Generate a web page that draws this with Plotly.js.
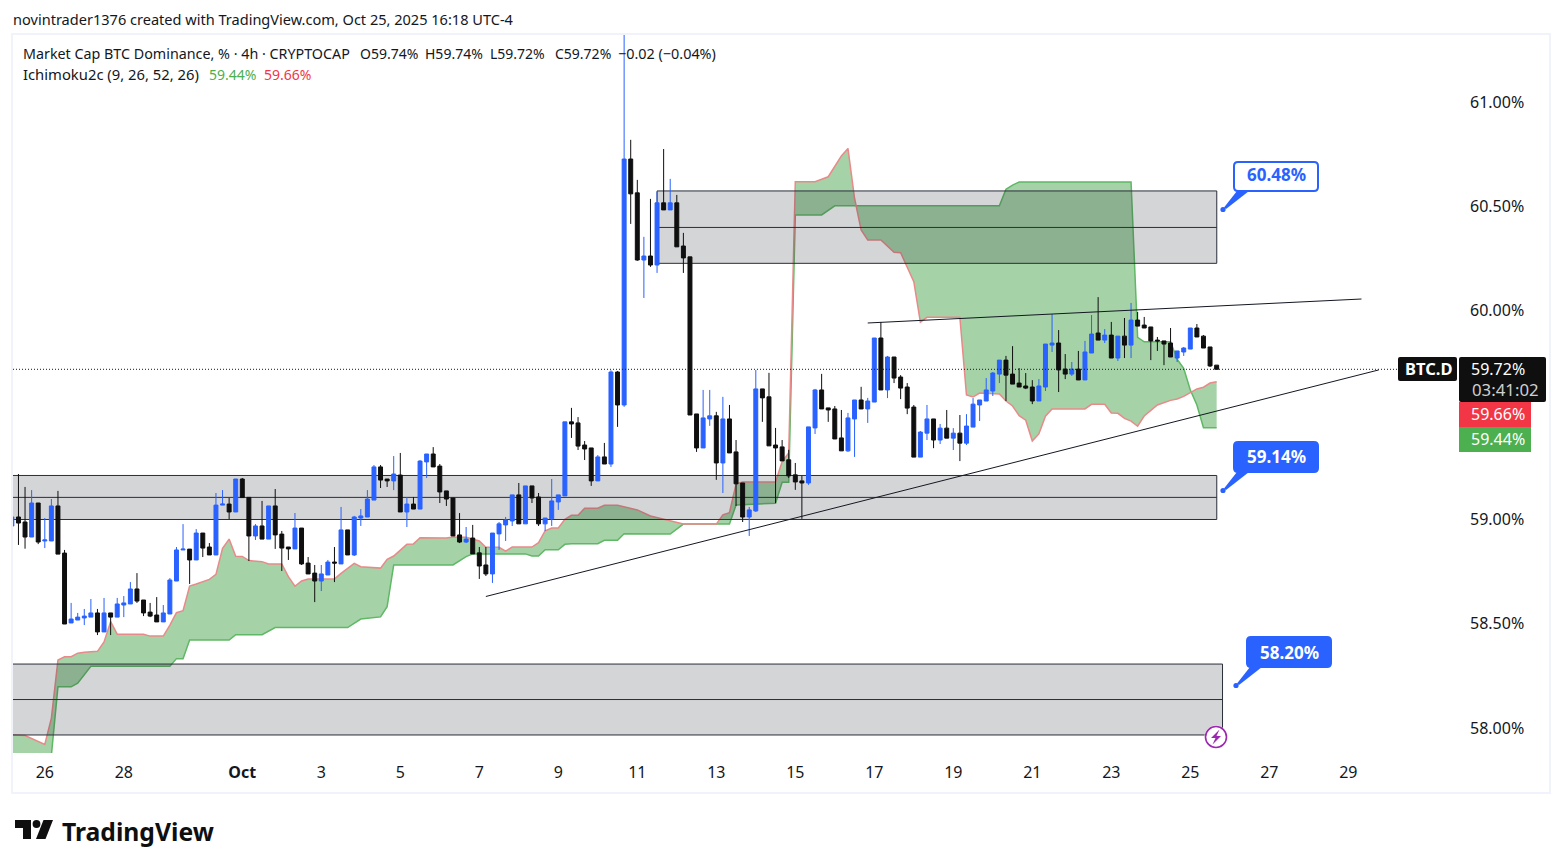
<!DOCTYPE html>
<html>
<head>
<meta charset="utf-8">
<script src="https://cdn.plot.ly/plotly-3.0.0.min.js"></script>
<style>html,body{margin:0;padding:0;background:#fff;overflow:hidden}#chart{width:1563px;height:868px}</style>
</head>
<body>
<div id="chart"></div>
<script>
// ---- Candle values, one per 4h bar, first bar Sep 25 04:00 ----
const open = [
58.969,59.012,58.988,58.916,59.079,58.897,58.897,59.065,58.839,58.504,
58.518,58.528,58.532,58.552,58.461,58.552,58.532,58.590,58.595,58.667,
58.614,58.556,58.542,58.509,58.547,58.705,58.854,58.858,58.806,58.935,
58.868,58.830,59.069,59.074,59.036,59.194,59.106,58.921,58.969,58.906,
59.065,58.930,58.868,58.859,58.959,58.791,58.743,58.705,58.734,58.796,
58.787,58.950,58.830,59.007,59.012,59.093,59.252,59.194,59.185,59.213,
59.036,59.074,59.050,59.276,59.314,59.256,59.137,59.103,58.926,58.892,
58.911,58.840,58.782,58.739,58.931,58.974,58.993,59.118,58.979,59.161,
59.108,58.979,59.003,59.084,59.113,59.468,59.463,59.357,59.343,59.185,
59.300,59.266,59.707,59.549,60.728,60.566,60.244,60.263,60.220,60.518,
60.484,60.518,60.311,60.259,59.506,59.343,59.482,59.497,59.271,59.482,
59.324,59.175,59.012,59.041,59.626,59.588,59.357,59.348,59.286,59.214,
59.185,59.175,59.439,59.621,59.535,59.530,59.391,59.329,59.482,59.573,
59.530,59.563,59.870,59.621,59.779,59.683,59.635,59.539,59.299,59.414,
59.482,59.381,59.438,59.390,59.414,59.366,59.443,59.549,59.568,59.616,
59.697,59.764,59.697,59.654,59.640,59.635,59.568,59.635,59.836,59.846,
59.721,59.697,59.721,59.669,59.798,59.894,59.860,59.884,59.774,59.879,
59.836,59.956,59.932,59.923,59.860,59.856,59.846,59.774,59.803,59.817,
59.918,59.879,59.827,59.74];
const high = [
59.012,59.218,59.156,59.141,59.079,59.007,59.098,59.137,58.854,58.600,
58.552,58.571,58.619,58.571,58.624,58.552,58.624,58.633,58.700,58.743,
58.614,58.600,58.628,58.590,58.719,58.868,58.978,58.858,58.954,58.935,
58.887,59.127,59.141,59.103,59.194,59.199,59.106,58.978,59.089,59.065,
59.146,58.945,58.868,59.031,58.959,58.820,58.782,58.782,58.806,58.868,
59.060,58.950,59.017,59.050,59.141,59.261,59.261,59.194,59.304,59.319,
59.108,59.108,59.285,59.314,59.347,59.266,59.137,59.103,59.031,58.964,
58.974,58.868,58.868,58.935,58.988,59.012,59.118,59.175,59.161,59.161,
59.127,59.007,59.194,59.118,59.468,59.535,59.491,59.376,59.343,59.309,
59.367,59.715,59.712,61.40,60.820,60.628,60.355,60.537,60.570,60.776,
60.633,60.556,60.374,60.259,59.506,59.621,59.621,59.516,59.588,59.549,
59.381,59.175,59.060,59.717,59.626,59.703,59.439,59.381,59.334,59.271,
59.209,59.444,59.626,59.698,59.535,59.544,59.525,59.511,59.573,59.636,
59.583,59.870,59.947,59.784,59.779,59.692,59.654,59.549,59.424,59.549,
59.482,59.458,59.525,59.438,59.501,59.505,59.582,59.573,59.678,59.707,
59.764,59.784,59.831,59.726,59.702,59.668,59.673,59.841,59.985,59.908,
59.793,59.755,59.808,59.856,59.980,60.066,59.913,59.947,59.879,59.966,
60.038,59.995,59.971,59.923,59.875,59.856,59.918,59.808,59.827,59.918,
59.937,59.884,59.827,59.74];
const low = [
58.969,58.878,58.860,58.916,58.882,58.863,58.897,58.834,58.499,58.504,
58.518,58.494,58.532,58.446,58.461,58.446,58.532,58.532,58.595,58.600,
58.537,58.532,58.509,58.509,58.547,58.705,58.854,58.691,58.806,58.820,
58.830,58.830,59.069,59.002,59.036,59.105,58.801,58.902,58.906,58.906,
58.859,58.753,58.806,58.859,58.782,58.739,58.604,58.657,58.734,58.700,
58.787,58.830,58.825,58.969,59.012,59.093,59.151,59.156,59.141,59.036,
58.964,59.050,59.050,59.199,59.252,59.079,59.065,58.921,58.887,58.887,
58.835,58.715,58.729,58.696,58.854,58.897,58.969,58.979,58.979,59.079,
58.969,58.945,58.969,59.046,59.113,59.391,59.333,59.285,59.161,59.185,
59.266,59.252,59.444,59.54,60.417,60.240,60.062,60.211,60.182,60.484,
60.484,60.307,60.182,59.501,59.324,59.343,59.449,59.190,59.127,59.319,
59.065,58.988,58.921,59.036,59.468,59.353,59.079,59.281,59.199,59.142,
59.003,59.166,59.410,59.530,59.468,59.386,59.329,59.324,59.300,59.530,
59.463,59.563,59.621,59.582,59.654,59.577,59.505,59.299,59.299,59.381,
59.342,59.362,59.390,59.333,59.280,59.357,59.443,59.472,59.568,59.592,
59.654,59.568,59.649,59.635,59.625,59.553,59.568,59.616,59.803,59.611,
59.673,59.688,59.669,59.669,59.798,59.860,59.846,59.774,59.760,59.774,
59.774,59.927,59.918,59.764,59.808,59.740,59.779,59.755,59.784,59.817,
59.875,59.822,59.731,59.72];
const close = [
59.012,58.983,58.916,59.079,58.892,58.902,59.065,58.834,58.499,58.523,
58.532,58.537,58.552,58.461,58.552,58.532,58.595,58.600,58.667,58.609,
58.552,58.537,58.509,58.552,58.710,58.854,58.858,58.806,58.935,58.863,
58.830,59.069,59.074,59.036,59.194,59.105,58.921,58.969,58.906,59.065,
58.926,58.863,58.859,58.959,58.787,58.739,58.705,58.739,58.796,58.791,
58.950,58.830,59.012,59.017,59.098,59.252,59.189,59.185,59.218,59.036,
59.074,59.050,59.280,59.314,59.252,59.132,59.098,58.921,58.892,58.906,
58.835,58.777,58.739,58.935,58.979,58.998,59.118,58.979,59.161,59.103,
58.979,59.007,59.089,59.118,59.468,59.458,59.352,59.338,59.185,59.300,
59.266,59.707,59.549,60.728,60.561,60.244,60.263,60.220,60.518,60.484,
60.518,60.307,60.254,59.501,59.343,59.487,59.497,59.271,59.482,59.319,
59.171,59.012,59.046,59.626,59.583,59.353,59.343,59.281,59.209,59.180,
59.175,59.444,59.621,59.530,59.525,59.386,59.329,59.487,59.573,59.530,
59.568,59.870,59.621,59.779,59.678,59.630,59.534,59.299,59.419,59.482,
59.381,59.438,59.390,59.414,59.366,59.448,59.553,59.573,59.621,59.702,
59.764,59.692,59.649,59.635,59.630,59.568,59.640,59.841,59.846,59.717,
59.697,59.721,59.669,59.803,59.889,59.860,59.884,59.774,59.879,59.836,
59.956,59.927,59.918,59.856,59.856,59.841,59.779,59.808,59.822,59.918,
59.875,59.822,59.736,59.72];

// ---- Ichimoku cloud edges: bar number and level at each bend ----
const redBar = [0,2,5,6,7,8,9,10,11,13,14,15,16,20,21,23,24,25,26,27,28,30,31,32,33,34,35,36,38,39,41,42,43,44,45,49,50,52,53,56,57,58,60,61,62,66,67,69,71,72,74,75,76,79,80,81,82,83,84,85,86,87,89,90,92,94,95,97,100,101,102,107,108,109,110,111,116,117,118,119,122,124,126,127,128,129,130,132,134,135,137,138,139,144,145,146,147,150,151,152,153,154,155,156,157,158,163,164,166,167,168,169,170,171,172,174,176,177,178,180,181,182,183];
const redLine = [57.967,57.964,57.922,58.048,58.326,58.342,58.342,58.359,58.363,58.368,58.413,58.510,58.450,58.450,58.441,58.441,58.494,58.553,58.563,58.681,58.691,58.713,58.737,58.862,58.906,58.824,58.823,58.803,58.798,58.787,58.787,58.726,58.680,58.705,58.715,58.715,58.742,58.790,58.774,58.767,58.809,58.825,58.881,58.883,58.913,58.911,58.916,58.915,58.897,58.867,58.867,58.848,58.868,58.868,58.889,58.946,58.959,58.959,59.001,59.020,59.020,59.054,59.054,59.068,59.068,59.052,59.046,59.017,58.995,58.988,58.978,58.978,59.022,59.033,59.170,59.180,59.180,59.277,59.319,60.619,60.619,60.643,60.743,60.779,60.540,60.388,60.340,60.340,60.281,60.279,60.140,59.946,59.969,59.969,59.597,59.587,59.606,59.602,59.568,59.544,59.498,59.476,59.376,59.410,59.495,59.530,59.530,59.552,59.552,59.511,59.509,59.485,59.472,59.447,59.496,59.549,59.571,59.578,59.590,59.626,59.634,59.654,59.66];
const greenBar = [0,6,7,9,10,12,24,25,26,27,33,34,38,40,51,53,56,57,58,67,69,70,78,79,80,81,83,84,85,89,90,92,93,100,102,109,110,116,117,118,119,123,125,150,151,152,153,170,171,172,176,177,178,179,180,181,183];
const greenLine = [57.87,57.87,58.198,58.198,58.215,58.296,58.296,58.333,58.333,58.422,58.422,58.448,58.448,58.482,58.482,58.523,58.533,58.582,58.782,58.782,58.822,58.835,58.835,58.825,58.825,58.855,58.855,58.881,58.884,58.884,58.900,58.900,58.932,58.930,58.978,58.978,59.070,59.078,59.178,59.178,60.460,60.460,60.504,60.504,60.583,60.603,60.618,60.618,59.873,59.852,59.852,59.768,59.725,59.621,59.549,59.44,59.44];

// ---- Drawn zones and trend lines ----
const zoneStart = ['2025-09-20 00:00','2025-10-11 12:00','2025-09-20 00:00'];
const zoneEnd   = ['2025-10-25 16:05','2025-10-25 16:05','2025-10-25 19:35'];
const zoneTop   = [59.211,60.575,58.307];
const zoneMid   = [59.106,60.400,58.137];
const zoneBot   = [59.000,60.228,57.967];
const trendRiseX = ['2025-10-07 04:00','2025-10-29 18:30'];
const trendRiseY = [58.631,59.717];
const trendFlatX = ['2025-10-16 20:00','2025-10-29 08:00'];
const trendFlatY = [59.942,60.057];
const lastPrice = 59.72;

// ---- Axis labels ----
const dayTicks = ['2025-09-26','2025-09-28','2025-10-01','2025-10-03','2025-10-05','2025-10-07','2025-10-09','2025-10-11','2025-10-13','2025-10-15','2025-10-17','2025-10-19','2025-10-21','2025-10-23','2025-10-25','2025-10-27','2025-10-29'];
const dayLabels = ['26','28','<b>Oct</b>','3','5','7','9','11','13','15','17','19','21','23','25','27','29'];
const priceTicks = [58,58.5,59,59.5,60,60.5,61];
const priceLabels = ['58.00%','58.50%','59.00%','','60.00%','60.50%','61.00%'];

const barTimes = open.map((_, i) => new Date(Date.UTC(2025, 8, 25, 4) + i * 4 * 3600e3).toISOString().slice(0, 19).replace('T', ' '));
const xRange = ['2025-09-25 04:41', '2025-10-31 18:39'];
const yRange = [57.8806, 61.3274];

const BLUE = '#2962ff', INK = '#131722', FONT = '"Noto Sans", sans-serif';
const X = p => (p - 13) / 1445, Y = p => (753 - p) / 719;

const traces = [];
traces.push({type:'scatter', mode:'lines', x:greenBar.map(i=>barTimes[i]), y:greenLine, line:{color:'#5fb865',width:1.5}, hoverinfo:'skip', showlegend:false});
traces.push({type:'scatter', mode:'lines', x:redBar.map(i=>barTimes[i]), y:redLine, line:{color:'#e98a8a',width:1.5}, fill:'tonexty', fillcolor:'rgba(76,165,80,0.5)', hoverinfo:'skip', showlegend:false});
zoneTop.forEach((t, k) => {
  const a = zoneStart[k], b = zoneEnd[k];
  traces.push({type:'scatter', mode:'lines', x:[a,b,b,a,a], y:[t,t,zoneBot[k],zoneBot[k],t], fill:'toself', fillcolor:'rgba(42,46,57,0.2)', line:{color:'#2a2e39',width:1}, hoverinfo:'skip', showlegend:false});
  traces.push({type:'scatter', mode:'lines', x:[a,b], y:[zoneMid[k],zoneMid[k]], line:{color:'#2a2e39',width:1}, hoverinfo:'skip', showlegend:false});
});
traces.push({type:'candlestick', xaxis:'x2', yaxis:'y2', x:barTimes, open, high, low, close, whiskerwidth:0,
  increasing:{line:{color:BLUE,width:1},fillcolor:BLUE}, decreasing:{line:{color:'#0f0f0f',width:1},fillcolor:'#0f0f0f'}, hoverinfo:'skip', showlegend:false});
traces.push({type:'scatter', mode:'lines', xaxis:'x2', yaxis:'y2', x:trendRiseX, y:trendRiseY, line:{color:'#131722',width:1}, hoverinfo:'skip', showlegend:false});
traces.push({type:'scatter', mode:'lines', xaxis:'x2', yaxis:'y2', x:trendFlatX, y:trendFlatY, line:{color:'#131722',width:1}, hoverinfo:'skip', showlegend:false});
traces.push({type:'scatter', mode:'lines', xaxis:'x2', yaxis:'y2', x:xRange, y:[lastPrice,lastPrice], line:{color:'#131722',width:1,dash:'1px,2px'}, hoverinfo:'skip', showlegend:false});

// ---- Page furniture ----
const shapes = [];
const box = (l,t,r,b,fill,line,lw) => shapes.push({type:'rect',xref:'paper',yref:'paper',x0:X(l),x1:X(r),y0:Y(b),y1:Y(t),fillcolor:fill,line:{color:line||'rgba(0,0,0,0)',width:lw||0}});
const round = (l,t,r,b,rad,fill) => shapes.push({type:'path',xref:'paper',yref:'paper',fillcolor:fill,line:{width:0},
  path:'M '+X(l+rad)+','+Y(t)+' L '+X(r-rad)+','+Y(t)+' Q '+X(r)+','+Y(t)+' '+X(r)+','+Y(t+rad)+' L '+X(r)+','+Y(b-rad)+' Q '+X(r)+','+Y(b)+' '+X(r-rad)+','+Y(b)+' L '+X(l+rad)+','+Y(b)+' Q '+X(l)+','+Y(b)+' '+X(l)+','+Y(b-rad)+' L '+X(l)+','+Y(t+rad)+' Q '+X(l)+','+Y(t)+' '+X(l+rad)+','+Y(t)+' Z'});
const dot = (cx,cy,r,fill,line,lw) => shapes.push({type:'circle',xref:'paper',yref:'paper',x0:X(cx-r),x1:X(cx+r),y0:Y(cy+r),y1:Y(cy-r),fillcolor:fill,line:{color:line||'rgba(0,0,0,0)',width:lw||0}});
const poly = (pts,fill) => shapes.push({type:'path',xref:'paper',yref:'paper',fillcolor:fill,line:{width:0},
  path:'M '+pts.map(c=>X(c[0])+','+Y(c[1])).join(' L ')+' Z'});

box(12,34,1550,793,'rgba(0,0,0,0)','#f0f3fa',2);

function callout(l,t,r,b,filled){
  poly([[l+4,b-1],[l-9,b+15.5],[l-7,b+17],[l+16,b-1]],BLUE);
  dot(l-10,b+17.5,2.6,BLUE);
  round(l,t,r,b,5,BLUE);
  if(!filled) round(l+2,t+2,r-2,b-2,3,'#ffffff');
}
callout(1233,161,1319,192,false);
callout(1233,441,1319,473,true);
callout(1246,636,1332,668,true);

round(1398,357,1457,381,2,'#0f0f0f');
round(1459,357,1546,402,2,'#0f0f0f');
box(1459,402,1531,427,'#f23645');
box(1459,427,1531,452,'#4caf50');

// lightning badge
dot(1216,737,11.5,'#ffffff');
dot(1216,737,10.5,'#ffffff','#9c27b0',1.6);
poly([[1219.5,729.5],[1211,738],[1215.5,738],[1212.5,744.5],[1221,736],[1216.5,736]],'#9c27b0');

// TradingView mark
poly([[15,820],[31,820],[31,839],[23,839],[23,828],[15,828]],'#0f0f0f');
dot(36.5,824,3.9,'#0f0f0f');
poly([[43.5,820],[53,820],[45.5,839],[36,839]],'#0f0f0f');

const note = (x,y,text,size,color,anchor) => ({xref:'paper',yref:'paper',x:X(x),y:Y(y),text,showarrow:false,xanchor:anchor||'left',yanchor:'middle',font:{family:FONT,size,color},borderpad:0,align:anchor||'left'});
const annotations = [
  note(12,19,'novintrader1376 created with TradingView.com, Oct 25, 2025 16:18 UTC-4',14.55,INK),
  note(22,53.5,'Market Cap BTC Dominance, % · 4h · CRYPTOCAP',14.3,INK),
  note(359,53.5,'O59.74%',14,INK), note(424,53.5,'H59.74%',14,INK), note(489,53.5,'L59.72%',14,INK), note(554,53.5,'C59.72%',14,INK),
  note(617,53.5,'−0.02 (−0.04%)',14.4,INK),
  note(22,74.5,'Ichimoku2c (9, 26, 52, 26)',14.8,INK),
  note(208,74.5,'59.44%',14,'#4caf50'),
  note(263,74.5,'59.66%',14,'#f23645'),
  note(1276,175,'<b>60.48%</b>',17,BLUE,'center'),
  note(1276,456,'<b>59.14%</b>',17,'#ffffff','center'),
  note(1289,652,'<b>58.20%</b>',17,'#ffffff','center'),
  note(1428,368.5,'<b>BTC.D</b>',16.5,'#ffffff','center'),
  note(1498,368.5,'59.72%',16,'#ffffff','center'),
  note(1505,389,'03:41:02',16.8,'#cfcfcf','center'),
  note(1498,413.5,'59.66%',16,'#ffffff','center'),
  note(1498,438.5,'59.44%',16,'#ffffff','center'),
  note(61,831,'<b>TradingView</b>',24.7,'#0f0f0f','left')
];

const layout = {
  width:1563, height:868, paper_bgcolor:'#ffffff', plot_bgcolor:'#ffffff',
  margin:{l:13,r:105,t:34,b:115,pad:0}, showlegend:false, boxgap:0.4, boxgroupgap:0,
  font:{family:FONT,color:INK,size:14},
  xaxis:{type:'date',range:xRange,tickmode:'array',tickvals:dayTicks,ticktext:dayLabels,showgrid:false,zeroline:false,showline:false,ticks:'',ticklabelstandoff:8,rangeslider:{visible:false},tickfont:{family:FONT,size:16,color:INK},fixedrange:true},
  yaxis:{range:yRange,side:'right',tickmode:'array',tickvals:priceTicks,ticktext:priceLabels,showgrid:false,zeroline:false,showline:false,ticks:'',ticklabelstandoff:11,tickfont:{family:FONT,size:16,color:INK},fixedrange:true},
  xaxis2:{type:'date',range:xRange,overlaying:'x',anchor:'y2',visible:false,rangeslider:{visible:false},fixedrange:true},
  yaxis2:{range:yRange,overlaying:'y',side:'right',anchor:'x2',visible:false,fixedrange:true},
  shapes, annotations
};
Plotly.newPlot('chart', traces, layout, {displayModeBar:false, staticPlot:true});
</script>
</body>
</html>
